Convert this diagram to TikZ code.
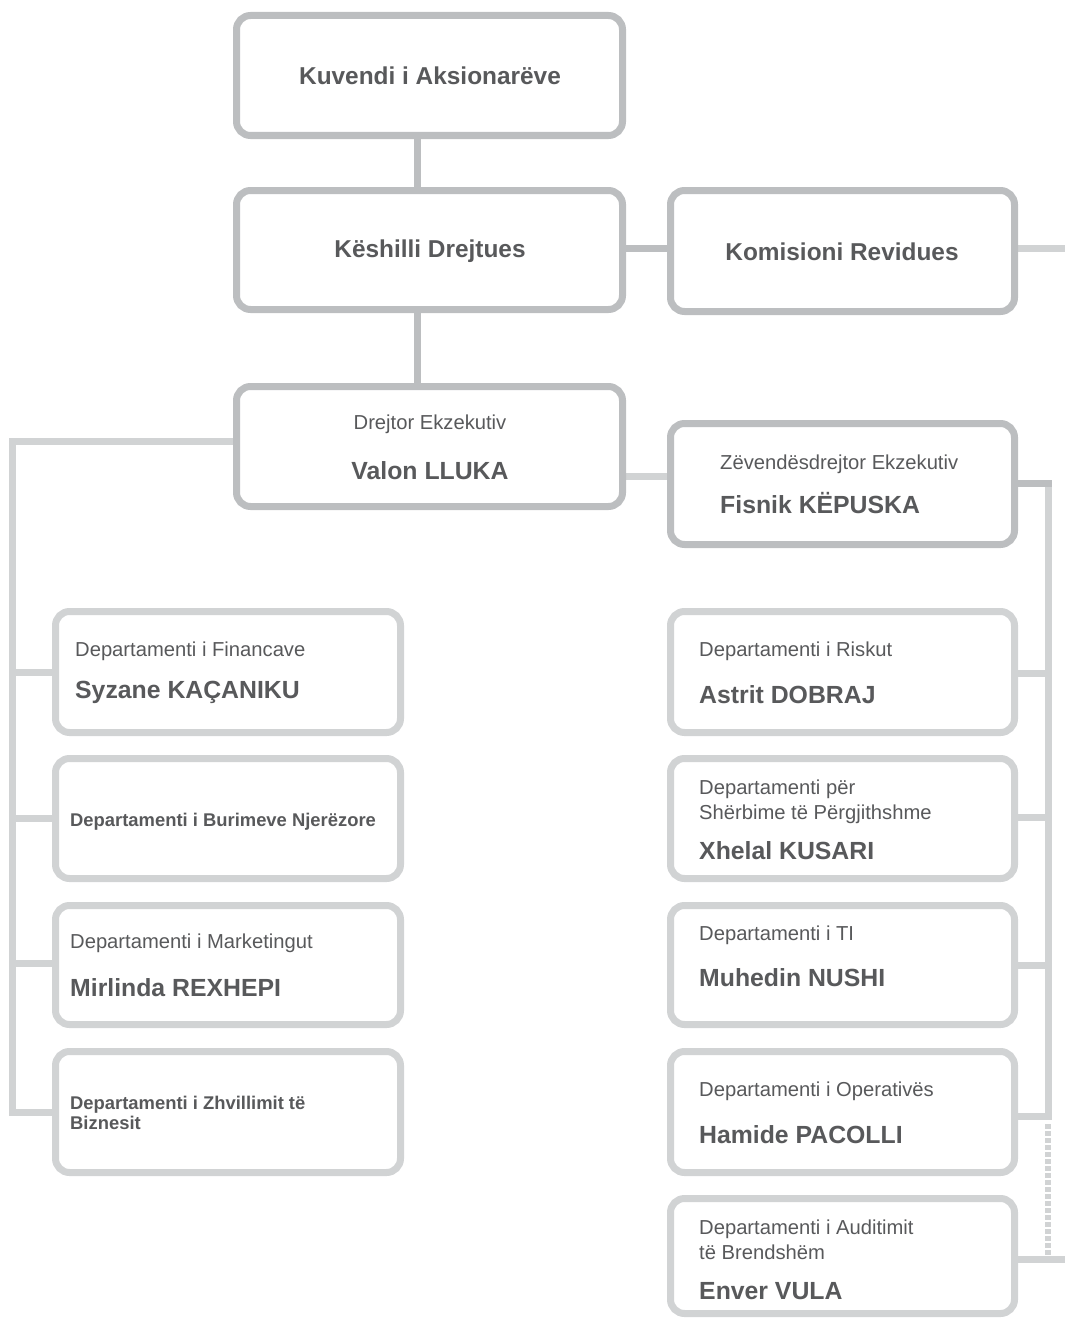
\documentclass[tikz,border=0pt]{standalone}
\usepackage{fontspec}
\setmainfont{Liberation Sans}
\usetikzlibrary{backgrounds}
\definecolor{boxdark}{HTML}{BCBEC0}
\definecolor{boxlight}{HTML}{D1D3D4}
\definecolor{txt}{HTML}{58595B}
\tikzset{
  topbox/.style={draw=boxdark, line width=7pt, rounded corners=14pt, fill=white, inner sep=0pt},
  depbox/.style={draw=boxlight, line width=7pt, rounded corners=14pt, fill=white, inner sep=0pt},
  conlight/.style={draw=boxlight, line width=7pt},
  condark/.style={draw=boxdark, line width=7pt},
  condot/.style={draw=boxlight, line width=5.5pt, dash pattern=on 4.5pt off 2.5pt},
  ttl/.style={text=txt, font=\fontsize{24.4}{28}\selectfont\bfseries, inner sep=0pt, anchor=base},
  nm/.style={text=txt, font=\fontsize{24.8}{28}\selectfont\bfseries, inner sep=0pt, anchor=base west},
  rg/.style={text=txt, font=\fontsize{20.2}{25}\selectfont, inner sep=0pt, anchor=base west, align=left},
  sb/.style={text=txt, font=\fontsize{18.4}{20}\selectfont\bfseries, inner sep=0pt, anchor=base west, align=left},
}
\begin{document}
\begin{tikzpicture}[x=1pt, y=-1pt]
\useasboundingbox (0,0) rectangle (1065,1319);
% top boxes
\node[topbox, minimum width=386pt, minimum height=120pt] (kuv) at (429.5,75.5) {};
\node[topbox, minimum width=386pt, minimum height=119pt] (kes) at (429.5,250) {};
\node[topbox, minimum width=344pt, minimum height=121pt] (kom) at (842.5,251) {};
\node[topbox, minimum width=386pt, minimum height=120pt] (dre) at (429.5,446.5) {};
\node[topbox, minimum width=344pt, minimum height=121pt] (zev) at (842.5,484) {};
% left departments
\node[depbox, minimum width=345pt, minimum height=121pt] (fin) at (228,672) {};
\node[depbox, minimum width=345pt, minimum height=120pt] (bur) at (228,818.5) {};
\node[depbox, minimum width=345pt, minimum height=119pt] (mar) at (228,965) {};
\node[depbox, minimum width=345pt, minimum height=121pt] (zhv) at (228,1112) {};
% right departments
\node[depbox, minimum width=344pt, minimum height=121pt] (ris) at (842.5,672) {};
\node[depbox, minimum width=344pt, minimum height=120pt] (she) at (842.5,818.5) {};
\node[depbox, minimum width=344pt, minimum height=119pt] (ti) at (842.5,965) {};
\node[depbox, minimum width=344pt, minimum height=121pt] (ope) at (842.5,1112) {};
\node[depbox, minimum width=344pt, minimum height=115pt] (aud) at (842.5,1256) {};
% free ends
\coordinate (komR) at (1065,248);
\coordinate (ltop) at (12,441);
\coordinate (lbot) at (12,1112);
\coordinate (rtop) at (1048,483);
\coordinate (rbot) at (1048,1116);
\coordinate (dtop) at (1048,1124);
\coordinate (dbot) at (1048,1262);
\coordinate (audR) at (1065,1259);
\begin{scope}[on background layer]
  \draw[condark] ([xshift=-12.5pt]kuv.south) -- ([xshift=-12.5pt]kes.north);
  \draw[condark] (kes.east |- 0,248) -- (kom.west |- 0,248);
  \draw[conlight] (kom.east |- komR) -- (komR);
  \draw[condark] ([xshift=-12.5pt]kes.south) -- ([xshift=-12.5pt]dre.north);
  \draw[conlight] (dre.west |- ltop) -- (ltop) -- (lbot) -- (zhv.west |- lbot);
  \draw[conlight] (fin.west |- 0,672) -- (ltop |- 0,672);
  \draw[conlight] (bur.west |- 0,818) -- (ltop |- 0,818);
  \draw[conlight] (mar.west |- 0,963) -- (ltop |- 0,963);
  \draw[conlight] (dre.east |- 0,476) -- (zev.west |- 0,476);
  \draw[condark] (zev.east |- rtop) -- ([xshift=3.5pt]rtop);
  \draw[conlight] ([yshift=-3.5pt]rtop) -- (rbot) -- (ope.east |- rbot);
  \draw[conlight] (ris.east |- 0,673) -- (rtop |- 0,673);
  \draw[conlight] (she.east |- 0,817) -- (rtop |- 0,817);
  \draw[conlight] (ti.east |- 0,965) -- (rtop |- 0,965);
  \draw[condot] (dtop) -- (dbot);
  \draw[conlight] (aud.east |- audR) -- (audR);
\end{scope}
% texts
\node[ttl] (kuvT) at (430,85) {Kuvendi i Aksionarëve};
\node[ttl] (kesT) at (430,257) {Këshilli Drejtues};
\node[ttl] (komT) at (842,260) {Komisioni Revidues};
\node[rg, anchor=base] (dreT) at (430,429) {Drejtor Ekzekutiv};
\node[ttl, font=\fontsize{24.8}{28}\selectfont\bfseries] (dreN) at (430,479) {Valon LLUKA};
\node[rg] (zevT) at (720,469) {Zëvendësdrejtor Ekzekutiv};
\node[nm] (zevN) at (720,513) {Fisnik KËPUSKA};
\node[rg] (finT) at (75,656) {Departamenti i Financave};
\node[nm] (finN) at (75,698) {Syzane KAÇANIKU};
\node[sb] (burT) at (70,826) {Departamenti i Burimeve Njerëzore};
\node[rg] (marT) at (70,948) {Departamenti i Marketingut};
\node[nm] (marN) at (70,996) {Mirlinda REXHEPI};
\node[sb] (zhvT) at (70,1129) {Departamenti i Zhvillimit të\\Biznesit};
\node[rg] (risT) at (699,656) {Departamenti i Riskut};
\node[nm] (risN) at (699,703) {Astrit DOBRAJ};
\node[rg] (sheT) at (699,819) {Departamenti për\\Shërbime të Përgjithshme};
\node[nm] (sheN) at (699,859) {Xhelal KUSARI};
\node[rg] (tiT) at (699,940) {Departamenti i TI};
\node[nm] (tiN) at (699,986) {Muhedin NUSHI};
\node[rg] (opeT) at (699,1096) {Departamenti i Operativës};
\node[nm] (opeN) at (699,1143) {Hamide PACOLLI};
\node[rg] (audT) at (699,1259) {Departamenti i Auditimit\\të Brendshëm};
\node[nm] (audN) at (699,1299) {Enver VULA};
\end{tikzpicture}
\end{document}
